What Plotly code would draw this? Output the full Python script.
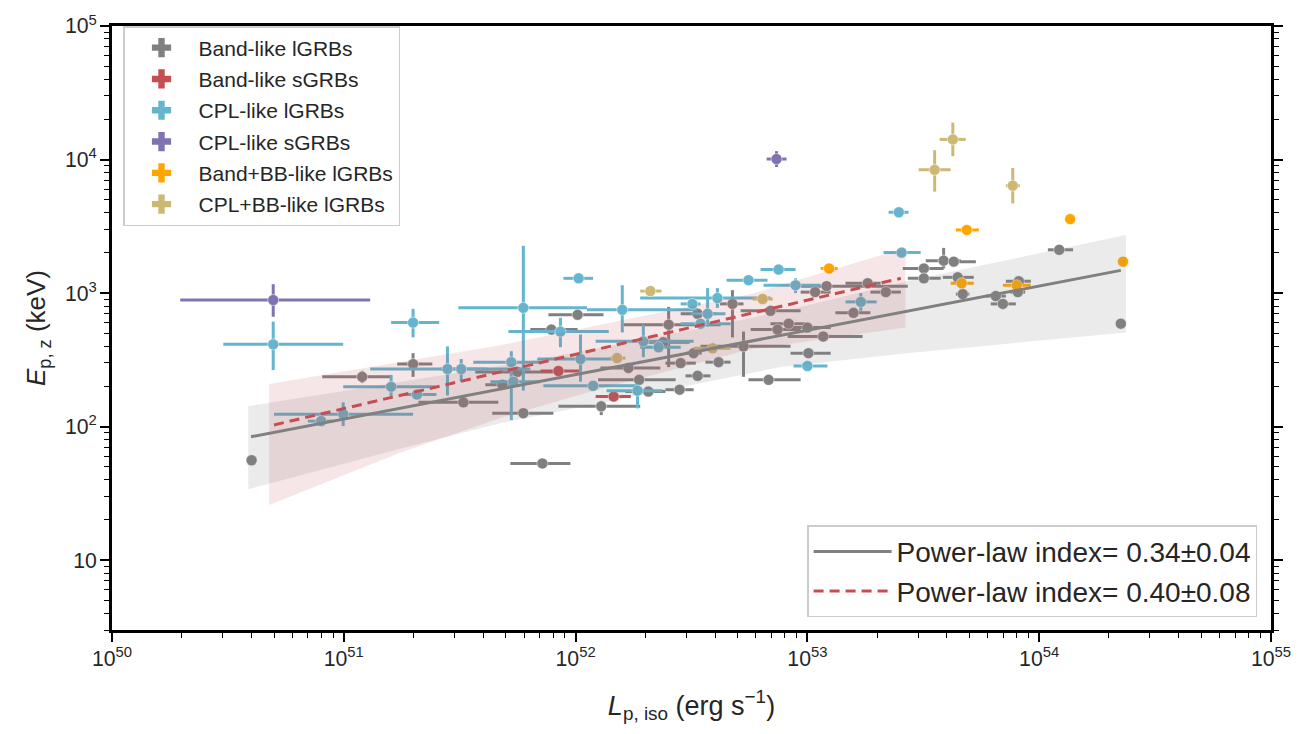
import math
import plotly.graph_objects as go

# ---------------- data (L in erg/s, E in keV) ----------------
# Band-like lGRBs
gray_L = [4.0e50, 1.20e51, 1.99e51, 3.28e51, 7.19e51, 5.95e51, 7.86e51, 1.02e52, 1.29e52, 5.61e51,
          4.83e51, 1.69e52, 1.88e52, 2.06e52, 2.81e52, 2.84e52, 3.36e52, 3.23e52, 4.14e52, 5.30e52,
          6.80e52, 2.52e52, 3.36e52, 4.75e52, 2.39e52, 6.93e52, 8.30e52, 1.00e53, 7.43e52, 1.08e53,
          1.01e53, 1.21e53, 1.82e53, 2.18e53, 1.58e53, 1.17e53, 3.18e53, 3.87e53, 4.28e53, 3.18e53,
          4.45e53, 4.68e53, 6.50e53, 6.97e53, 8.17e53, 8.09e53, 1.22e54, 2.25e54]
gray_L_lo = [4.0e50, 8.07e50, 1.70e51, 2.10e51, 5.23e51, 4.37e51, 6.38e51, 7.63e51, 8.43e51, 3.69e51,
             4.08e51, 1.28e52, 1.25e52, 1.64e52, 2.44e52, 2.44e52, 2.98e52, 3.00e52, 3.63e52, 3.46e52,
             5.57e52, 1.61e52, 2.84e52, 4.20e52, 1.90e52, 5.15e52, 6.93e52, 8.46e52, 5.69e52, 9.35e52,
             8.46e52, 9.35e52, 1.46e53, 1.87e53, 1.32e53, 8.22e52, 2.58e53, 3.24e53, 3.76e53, 2.71e53,
             3.84e53, 4.37e53, 5.88e53, 6.18e53, 7.18e53, 7.50e53, 1.09e54, 2.25e54]
gray_L_hi = [4.0e50, 1.59e51, 2.41e51, 4.64e51, 9.50e51, 8.02e51, 1.02e52, 1.32e52, 1.90e52, 8.60e51,
             5.61e51, 2.32e52, 2.70e52, 2.44e52, 3.23e52, 3.30e52, 3.82e52, 3.50e52, 4.66e52, 8.46e52,
             9.35e52, 4.22e52, 4.02e52, 5.30e52, 3.10e52, 9.35e52, 9.80e52, 1.26e53, 9.35e52, 1.26e53,
             1.26e53, 2.71e53, 2.07e53, 2.53e53, 1.87e53, 1.73e53, 3.87e53, 4.59e53, 5.33e53, 3.76e53,
             5.22e53, 5.00e53, 7.18e53, 7.93e53, 9.20e53, 8.70e53, 1.40e54, 2.25e54]
gray_E = [56, 236, 294, 152, 53, 126, 533, 688, 142, 257,
          206, 275, 224, 183, 189, 299, 240, 355, 304, 399,
          224, 580, 700, 830, 428, 736, 590, 552, 533, 1017,
          355, 1127, 1185, 1017, 711, 473, 1530, 1750, 1720, 1290,
          1312, 983, 950, 830, 1227, 1017, 2110, 590]
gray_E_lo = [56, 212, 236, 152, 53, 126, 533, 688, 122, 257,
             206, 275, 224, 183, 189, 299, 240, 355, 304, 236,
             224, 279, 700, 466, 428, 736, 590, 552, 533, 1017,
             355, 1127, 1185, 1017, 711, 473, 1530, 1530, 1720, 1290,
             1312, 983, 950, 830, 1227, 1017, 2110, 590]
gray_E_hi = [56, 262, 355, 152, 53, 126, 533, 688, 154, 257,
             206, 275, 224, 183, 189, 299, 240, 355, 304, 515,
             224, 788, 700, 1052, 428, 736, 590, 552, 533, 1017,
             355, 1127, 1185, 1017, 711, 473, 1530, 2180, 1720, 1290,
             1312, 983, 950, 830, 1227, 1017, 2110, 590]

# Band-like sGRBs
red_L = [8.43e51, 1.46e52]
red_L_lo = [7.05e51, 1.22e52]
red_L_hi = [1.05e52, 1.73e52]
red_E = [261, 168]

# CPL-like lGRBs
cyan_L = [4.96e50, 1.99e51, 9.94e50, 7.99e50, 1.60e51, 2.07e51, 2.80e51, 3.21e51, 5.28e51, 5.95e51,
          5.39e51, 1.03e52, 8.60e51, 1.05e52, 1.19e52, 1.85e52, 1.59e52, 1.96e52, 2.28e52, 3.19e52,
          3.46e52, 3.71e52, 4.09e52, 5.57e52, 7.51e52, 8.89e52, 1.00e53, 1.70e53, 2.55e53, 2.48e53]
cyan_L_lo = [3.02e50, 1.60e51, 5.00e50, 7.00e50, 9.94e50, 1.80e51, 1.30e51, 2.61e51, 3.62e51, 3.12e51,
             4.29e51, 8.86e51, 5.13e51, 6.84e51, 7.26e51, 1.36e52, 1.12e52, 1.22e52, 1.90e52, 2.84e52,
             2.84e52, 3.13e52, 1.90e52, 4.48e52, 6.28e52, 6.47e52, 8.71e52, 1.46e53, 2.13e53, 2.24e53]
cyan_L_hi = [9.94e50, 2.58e51, 1.99e51, 9.00e50, 2.48e51, 2.51e51, 4.16e51, 6.38e51, 7.05e51, 1.12e52,
             7.05e51, 1.19e52, 1.39e52, 1.51e52, 1.85e52, 2.37e52, 3.36e52, 3.23e52, 2.84e52, 3.46e52,
             4.66e52, 4.43e52, 6.93e52, 6.73e52, 8.89e52, 1.14e53, 1.22e53, 1.99e53, 3.08e53, 2.73e53]
cyan_E = [413, 601, 124, 110, 199, 174, 270, 270, 304, 775,
          217, 1290, 515, 321, 202, 186, 750, 435, 393, 830,
          590, 700, 918, 1250, 1500, 1145, 284, 859, 2010, 4030]
cyan_E_lo = [265, 466, 101, 110, 168, 174, 171, 217, 112, 186,
             217, 1290, 393, 217, 202, 137, 507, 331, 393, 830,
             590, 561, 775, 1250, 1500, 1000, 284, 736, 2010, 4030]
cyan_E_hi = [611, 762, 152, 110, 244, 174, 399, 321, 367, 2260,
             217, 1290, 653, 490, 202, 209, 1145, 580, 393, 830,
             590, 1090, 1090, 1250, 1500, 1290, 284, 1000, 2010, 4030]

# CPL-like sGRBs
purple_L = [4.96e50, 7.36e52]
purple_L_lo = [1.97e50, 6.67e52]
purple_L_hi = [1.30e51, 8.13e52]
purple_E = [887, 10090]
purple_E_lo = [665, 8800]
purple_E_hi = [1165, 11560]

# Band+BB-like lGRBs
orange_L = [1.24e53, 4.87e53, 1.36e54, 2.30e54, 4.63e53, 8.00e53]
orange_L_lo = [1.14e53, 4.37e53, 1.36e54, 2.30e54, 4.15e53, 6.97e53]
orange_L_hi = [1.35e53, 5.49e53, 1.36e54, 2.30e54, 5.22e53, 9.20e53]
orange_E = [1530, 2970, 3580, 1720, 1185, 1145]

# CPL+BB-like lGRBs
khaki_L = [2.10e52, 1.51e52, 3.90e52, 6.41e52, 3.54e53, 4.24e53, 7.69e53]
khaki_L_lo = [1.90e52, 1.41e52, 3.23e52, 5.80e52, 3.02e53, 3.72e53, 7.18e53]
khaki_L_hi = [2.35e52, 1.64e52, 4.66e52, 7.08e52, 4.15e53, 4.82e53, 8.25e53]
khaki_E = [1035, 326, 386, 903, 8370, 14150, 6370]
khaki_E_lo = [1035, 326, 386, 903, 5750, 10600, 4690]
khaki_E_hi = [1035, 326, 386, 903, 11750, 18900, 8650]

# best-fit power laws (end points) and confidence bands
fit_all_L = [3.98e50, 2.25e54]
fit_all_E = [84, 1480]
fit_short_L = [5.0e50, 2.53e53]
fit_short_E = [103, 1290]

band_all_L = [3.87e50, 1.75e51, 4.73e51, 2.10e52, 7.66e52, 2.68e53, 2.37e54]
band_all_lo = [34.0, 68.2, 106, 177, 279, 355, 507]
band_all_hi = [142, 217, 284, 458, 724, 1227, 2725]

band_short_L = [4.76e50, 1.75e51, 4.73e51, 1.28e52, 5.69e52, 2.65e53]
band_short_lo = [25.9, 63.7, 116, 192, 379, 552]
band_short_hi = [209, 304, 406, 580, 983, 2180]

legend_labels = ["Band-like lGRBs", "Band-like sGRBs", "CPL-like lGRBs",
                 "CPL-like sGRBs", "Band+BB-like lGRBs", "CPL+BB-like lGRBs"]
fit_labels = ["Power-law index= 0.34\u00b10.04", "Power-law index= 0.40\u00b10.08"]

# ---------------- styles ----------------
C_GRAY = "#808080"
C_RED = "#C44E52"
C_CYAN = "#64B5CD"
C_PURPLE = "#8172B2"
C_ORANGE = "#FFA500"
C_KHAKI = "#CCB974"
FONT = "Liberation Sans, Arial, sans-serif"
TXT = "#262626"

fig = go.Figure()


def add_points(color, L, Llo, Lhi, E, Elo=None, Ehi=None):
    Elo = Elo if Elo is not None else E
    Ehi = Ehi if Ehi is not None else E
    fig.add_trace(go.Scatter(
        x=L, y=E, mode="markers",
        marker=dict(color=color, size=11, line=dict(color="white", width=0.5)),
        error_x=dict(type="data", symmetric=False,
                     array=[h - v for h, v in zip(Lhi, L)],
                     arrayminus=[v - l for v, l in zip(L, Llo)],
                     color=color, thickness=3, width=0),
        error_y=dict(type="data", symmetric=False,
                     array=[h - v for h, v in zip(Ehi, E)],
                     arrayminus=[v - l for v, l in zip(E, Elo)],
                     color=color, thickness=3, width=0),
        showlegend=False, hoverinfo="x+y"))


add_points(C_GRAY, gray_L, gray_L_lo, gray_L_hi, gray_E, gray_E_lo, gray_E_hi)
add_points(C_RED, red_L, red_L_lo, red_L_hi, red_E)
add_points(C_CYAN, cyan_L, cyan_L_lo, cyan_L_hi, cyan_E, cyan_E_lo, cyan_E_hi)
add_points(C_PURPLE, purple_L, purple_L_lo, purple_L_hi, purple_E, purple_E_lo, purple_E_hi)
add_points(C_ORANGE, orange_L, orange_L_lo, orange_L_hi, orange_E)
add_points(C_KHAKI, khaki_L, khaki_L_lo, khaki_L_hi, khaki_E, khaki_E_lo, khaki_E_hi)

# confidence bands (drawn over the points, semi-transparent)
fig.add_trace(go.Scatter(
    x=band_all_L + band_all_L[::-1], y=band_all_hi + band_all_lo[::-1],
    fill="toself", fillcolor="rgba(128,128,128,0.16)", line=dict(width=0),
    mode="lines", showlegend=False, hoverinfo="skip"))
fig.add_trace(go.Scatter(
    x=band_short_L + band_short_L[::-1], y=band_short_hi + band_short_lo[::-1],
    fill="toself", fillcolor="rgba(196,78,82,0.14)", line=dict(width=0),
    mode="lines", showlegend=False, hoverinfo="skip"))

# fit lines
fig.add_trace(go.Scatter(x=fit_all_L, y=fit_all_E, mode="lines",
                         line=dict(color=C_GRAY, width=3), name=fit_labels[0],
                         legend="legend2", legendgroup="f1"))
fig.add_trace(go.Scatter(x=fit_short_L, y=fit_short_E, mode="lines",
                         line=dict(color=C_RED, width=3, dash="10px,6px"), name=fit_labels[1],
                         legend="legend2", legendgroup="f2"))

# legend entries for groups
for lab, col in zip(legend_labels, [C_GRAY, C_RED, C_CYAN, C_PURPLE, C_ORANGE, C_KHAKI]):
    fig.add_trace(go.Scatter(x=[None], y=[None], mode="markers",
                             marker=dict(symbol="cross", size=18, color=col),
                             name=lab, legend="legend", legendgroup=lab))

axis_common = dict(
    type="log", dtick=1, tick0=0, exponentformat="power", showexponent="all",
    ticks="outside", ticklen=9, tickwidth=1.5, tickcolor="black",
    showline=True, linecolor="black", linewidth=2.5,
    showgrid=False, zeroline=False,
    tickfont=dict(family=FONT, size=17, color=TXT),
    minor=dict(ticks="outside", ticklen=5, tickwidth=1, tickcolor="black",
               dtick="D1", showgrid=False),
)

fig.update_layout(
    width=1312, height=734,
    margin=dict(l=112, r=41, t=17, b=104),
    paper_bgcolor="white", plot_bgcolor="white",
    font=dict(family=FONT, color=TXT),
    xaxis=dict(axis_common, range=[50, 55], mirror=True,
               title=dict(text="<i>L</i><sub>p, iso</sub> (erg s<sup>\u22121</sup>)",
                          font=dict(family=FONT, size=27, color=TXT), standoff=26)),
    yaxis=dict(axis_common, range=[math.log10(3), 5], mirror="allticks",
               title=dict(text="<i>E</i><sub>p, z</sub> (keV)",
                          font=dict(family=FONT, size=26, color=TXT), standoff=12)),
    legend=dict(x=0.0095, y=1.0, xanchor="left", yanchor="top",
                bgcolor="rgba(255,255,255,0.9)", bordercolor="#cccccc", borderwidth=1.5,
                font=dict(family=FONT, size=21, color=TXT),
                traceorder="grouped", tracegroupgap=1, itemwidth=64),
    legend2=dict(x=0.988, y=0.021, xanchor="right", yanchor="bottom",
                 bgcolor="rgba(255,255,255,0.9)", bordercolor="#cccccc", borderwidth=1.5,
                 font=dict(family=FONT, size=28, color=TXT),
                 traceorder="grouped", tracegroupgap=0, itemwidth=78),
)

fig.write_html("out.html")
